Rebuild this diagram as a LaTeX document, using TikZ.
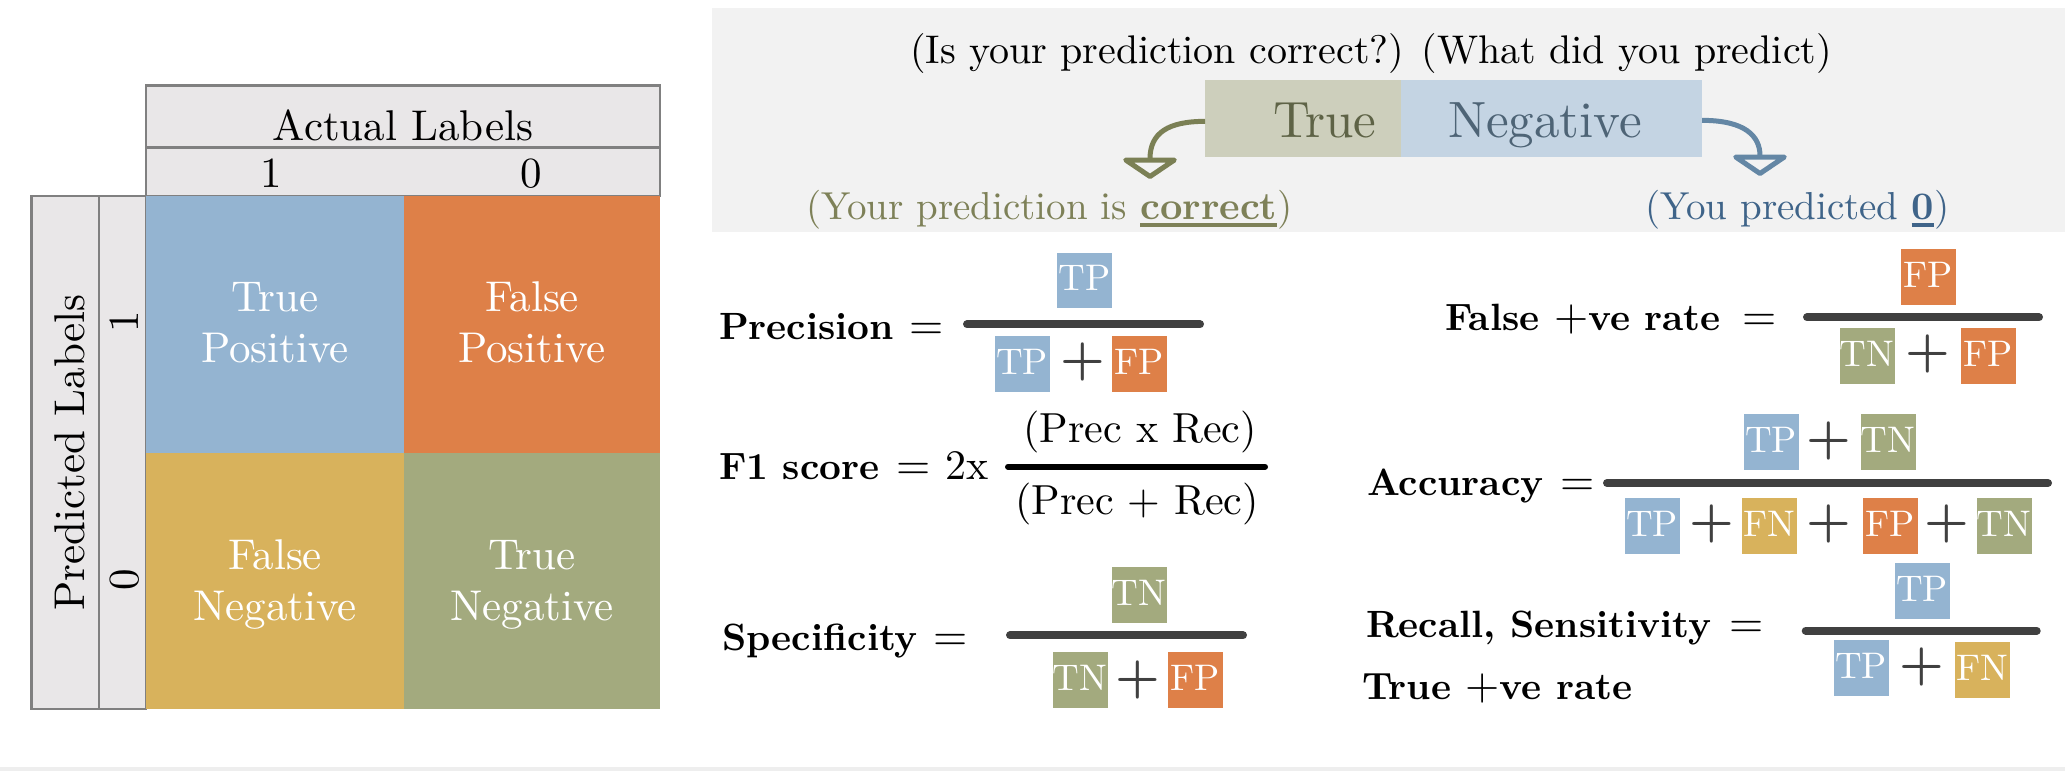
\documentclass[tikz,border=0pt]{standalone}
\usepackage{fontspec}
\setmainfont{lmroman10-regular.otf}[BoldFont=lmroman10-bold.otf]
\usetikzlibrary{arrows.meta}
\definecolor{cTP}{HTML}{94B4D1}
\definecolor{cFP}{HTML}{DE8048}
\definecolor{cFN}{HTML}{D8B25C}
\definecolor{cTN}{HTML}{A3AA7E}
\definecolor{hdrfill}{HTML}{E9E7E8}
\definecolor{hdrline}{HTML}{808080}
\definecolor{panel}{HTML}{F2F2F2}
\definecolor{strip}{HTML}{EEEEEE}
\definecolor{trueBox}{HTML}{CDCFBC}
\definecolor{negBox}{HTML}{C4D4E3}
\definecolor{trueTxt}{HTML}{5E6346}
\definecolor{negTxt}{HTML}{4E6476}
\definecolor{olive}{HTML}{7E8158}
\definecolor{steel}{HTML}{3F6489}
\definecolor{oliveArr}{HTML}{7B8055}
\definecolor{steelArr}{HTML}{6487A5}
\definecolor{dk}{HTML}{404040}
\newcommand\ulbar[1]{\setbox0\hbox{#1}\rlap{\rule[-4.1pt]{\wd0}{2.3pt}}\box0}
\newcommand\pl{{\fontsize{22}{26}\selectfont\mdseries +}}
\begin{document}
\begin{tikzpicture}[x=0.5pt,y=-0.5pt,
  every node/.style={inner sep=0pt,outer sep=0pt},
  hdrbox/.style={draw=hdrline, fill=hdrfill, line width=1.35pt},
  cellbox/.style={anchor=north west, minimum height=128.5pt},
  celltxt/.style={anchor=base, text=white, font=\fontsize{21.5}{25}\selectfont},
  hdrtxt/.style={anchor=base, font=\fontsize{21.5}{25}\selectfont},
  toptxt/.style={anchor=base west, font=\fontsize{20}{24}\selectfont},
  subtxt/.style={anchor=base west, font=\fontsize{19.5}{23}\selectfont},
  lbl/.style={anchor=base west, font=\fontsize{19}{23}\selectfont\bfseries},
  eqsign/.style={anchor=base, font=\fontsize{22}{26}\selectfont},
  mtxt/.style={anchor=base, font=\fontsize{21}{25}\selectfont},
  mb/.style={anchor=center, text=white, font=\fontsize{18.5}{22}\selectfont,
    minimum width=27.5pt, text height=15.9pt, text depth=5.9pt,
    inner xsep=0pt, inner ysep=3pt},
  plus/.style={anchor=center, text=dk, font=\fontsize{25}{30}\selectfont\bfseries},
  fracline/.style={draw=dk, line width=4pt, line cap=round},
  arr/.style={line width=2.5pt, -{Triangle[open,length=11pt,width=32pt,round]}}]
\useasboundingbox (0,0) rectangle (2065,771);

% backgrounds
\fill[panel] (711.7,8) rectangle (2065,231.7);
\fill[strip] (0,767) rectangle (2065,771);

% header boxes
\draw[hdrbox] (146,85.7) rectangle (660,147.5);
\draw[hdrbox] (146,147.5) rectangle (660,196);
\draw[hdrbox] (31.3,196) rectangle (99,709);
\draw[hdrbox] (99,196) rectangle (146,709);

% matrix cells
\node[cellbox, fill=cTP, minimum width=129pt] (tp) at (146,196) {};
\node[cellbox, fill=cFP, minimum width=128pt] (fp) at (404,196) {};
\node[cellbox, fill=cFN, minimum width=129pt, minimum height=128pt] (fn) at (146,453) {};
\node[cellbox, fill=cTN, minimum width=128pt, minimum height=128pt] (tn) at (404,453) {};

\node[celltxt] (tpa) at (275,311.7) {True};
\node[celltxt] (tpb) at (275,362.7) {Positive};
\node[celltxt] (fpa) at (532,311.7) {False};
\node[celltxt] (fpb) at (532,362.7) {Positive};
\node[celltxt] (fna) at (275,569) {False};
\node[celltxt] (fnb) at (275,620) {Negative};
\node[celltxt] (tna) at (532,569) {True};
\node[celltxt] (tnb) at (532,620) {Negative};

% header texts
\node[hdrtxt] (actual) at (403,140) {Actual Labels};
\node[hdrtxt] (aone) at (271,187.7) {1};
\node[hdrtxt] (azero) at (531,187.7) {0};
\node[hdrtxt, rotate=90] (pred) at (84,452.5) {Predicted Labels};
\node[hdrtxt, rotate=90] (pone) at (138,322) {1};
\node[hdrtxt, rotate=90] (pzero) at (138,580) {0};

% top explanation panel
\node[toptxt] (question) at (910,63) {(Is your prediction correct?) (What did you predict)};
\node[anchor=north west, fill=trueBox, minimum width=98pt, minimum height=38.35pt] (truebox) at (1205,80) {};
\node[anchor=north west, fill=negBox, minimum width=150.5pt, minimum height=38.35pt] (negbox) at (1401,80) {};
\node[anchor=base west, text=trueTxt, font=\fontsize{25.5}{30}\selectfont] (truet) at (1273,137.3) {True};
\node[anchor=base west, text=negTxt, font=\fontsize{25.5}{30}\selectfont] (negt) at (1448,137.3) {Negative};
\coordinate (ltip) at (1150,179);
\coordinate (rtip) at (1760,176);
\draw[arr, draw=oliveArr] ([yshift=-1.5pt]truebox.west) .. controls +(-37,0) and +(0,-46) .. (ltip);
\draw[arr, draw=steelArr] ([yshift=-1pt]negbox.east) .. controls +(43,0) and +(0,-40) .. (rtip);
\node[subtxt, text=olive] (correct) at (806,219) {(Your prediction is \ulbar{\bfseries correct})};
\node[subtxt, text=steel] (predicted) at (1645,219) {(You predicted \ulbar{\bfseries 0})};

% Precision
\node[lbl] (precl) at (719,339.3) {Precision};
\node[eqsign] (preceq) at (926.2,339.3) {=};
\draw[fracline] (967,324.3) -- (1200,324.3);
\node[mb, fill=cTP] (precn) at (1084.7,280.5) {TP};
\node[mb, fill=cTP] (precd1) at (1022,364) {TP};
\node[plus] (precp) at (1082.7,362) {+};
\node[mb, fill=cFP] (precd2) at (1139,364) {FP};

% F1 score
\node[lbl] (f1l) at (719,479.3) {F1 score};
\node[eqsign] (f1eq) at (913.5,479.3) {=};
\node[mtxt, anchor=base west] (f1two) at (945,479.3) {2x};
\draw[black, line width=3pt, line cap=round] (1008,466.7) -- (1265,466.7);
\node[mtxt] (f1n) at (1140,442.7) {(Prec x Rec)};
\node[mtxt] (f1d) at (1137,514) {(Prec + Rec)};

% Specificity
\node[lbl] (specl) at (722,650.7) {Specificity};
\node[eqsign] (speceq) at (950.8,650.7) {=};
\draw[fracline] (1010,635.3) -- (1243,635.3);
\node[mb, fill=cTN] (specn) at (1139,595) {TN};
\node[mb, fill=cTN] (specd1) at (1080,680) {TN};
\node[plus] (specp) at (1137.5,680) {+};
\node[mb, fill=cFP] (specd2) at (1195,680) {FP};

% False positive rate
\node[lbl] (fprl) at (1445,330) {False \pl ve rate};
\node[eqsign] (fpreq) at (1759.8,330) {=};
\draw[fracline] (1807,317.3) -- (2039,317.3);
\node[mb, fill=cFP] (fprn) at (1928,277) {FP};
\node[mb, fill=cTN] (fprd1) at (1867,356) {TN};
\node[plus] (fprp) at (1928,354) {+};
\node[mb, fill=cFP] (fprd2) at (1988,356) {FP};

% Accuracy
\node[lbl] (accl) at (1367,495) {Accuracy};
\node[eqsign] (acceq) at (1577.7,495) {=};
\draw[fracline] (1607,483) -- (2048,483);
\node[mb, fill=cTP] (accn1) at (1771,442) {TP};
\node[plus] (accnp) at (1829,441) {+};
\node[mb, fill=cTN] (accn2) at (1888,442) {TN};
\node[mb, fill=cTP] (accd1) at (1652,526) {TP};
\node[plus] (accp1) at (1712,524.3) {+};
\node[mb, fill=cFN] (accd2) at (1769.3,526) {FN};
\node[plus] (accp2) at (1829,524.3) {+};
\node[mb, fill=cFP] (accd3) at (1890,526) {FP};
\node[plus] (accp3) at (1946.7,524.3) {+};
\node[mb, fill=cTN] (accd4) at (2004,526) {TN};

% Recall
\node[lbl] (recl) at (1366,637.3) {Recall, Sensitivity};
\node[eqsign] (receq) at (1747,637.3) {=};
\node[lbl] (tprl) at (1362,699.3) {True \pl ve rate};
\draw[fracline] (1805.7,630.7) -- (2036.7,630.7);
\node[mb, fill=cTP] (recn) at (1922,591) {TP};
\node[mb, fill=cTP] (recd1) at (1861,668) {TP};
\node[plus] (recp) at (1921.7,667) {+};
\node[mb, fill=cFN] (recd2) at (1982,670) {FN};
\end{tikzpicture}
\end{document}
